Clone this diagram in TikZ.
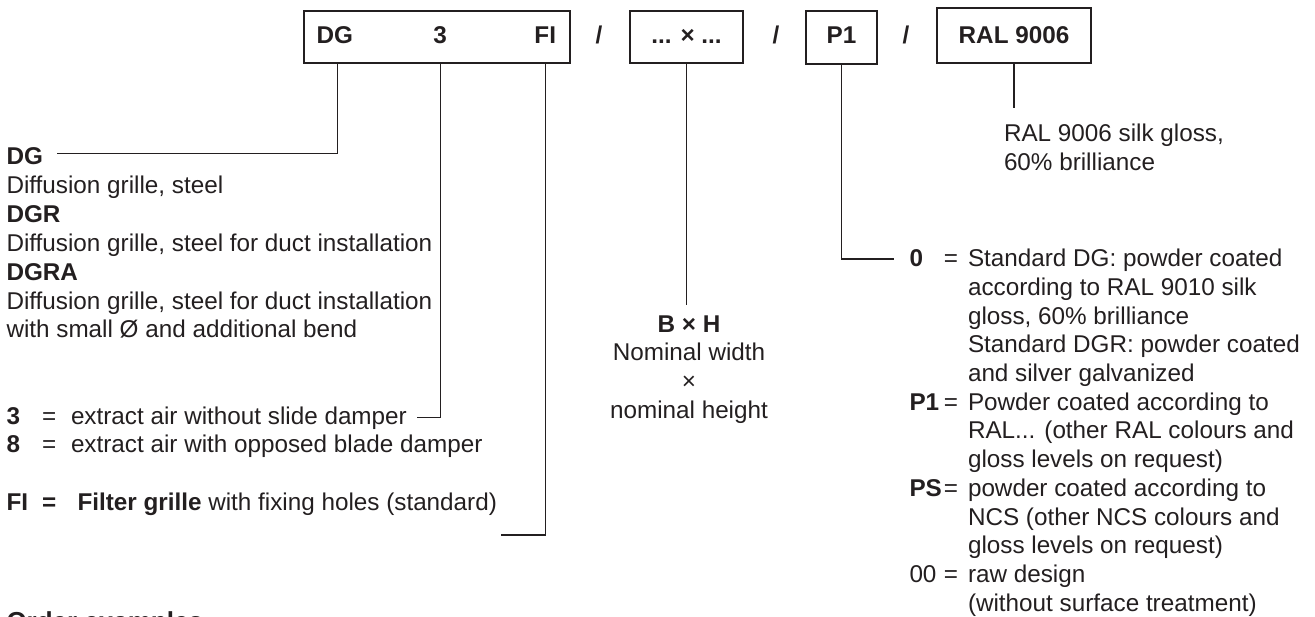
\documentclass[tikz,border=0pt]{standalone}
\usepackage{fontspec}
\setmainfont{Liberation Sans}
\definecolor{ink}{HTML}{231F20}
\begin{document}
\begin{tikzpicture}[x=0.75pt,y=-0.75pt,
  every node/.style={inner sep=0pt, outer sep=0pt, text=ink, font=\fontsize{18.2pt}{21.8pt}\selectfont},
  lbl/.style={anchor=base west},
  bl/.style={anchor=base west, font=\fontsize{18.2pt}{21.8pt}\selectfont\bfseries},
  frame/.style={draw=ink, line width=0.9pt, anchor=north west, minimum height=39pt},
  conn/.style={draw=ink, line width=0.9pt}]
\clip (0,0) rectangle (1315,617);
% code boxes
\node[frame, minimum width=199.5pt] (b1) at (304,11) {};
\node[frame, minimum width=84.75pt] (b2) at (630,11) {};
\node[frame, minimum width=53.25pt, minimum height=39.75pt] (b3) at (806,11) {};
\node[frame, minimum width=115.5pt, minimum height=41.25pt] (b4) at (937,8) {};
% box texts
\node[bl] (tdg) at (316.5,43.3) {DG};
\node[bl, anchor=base] (tthree) at (440,43.3) {3};
\node[bl, anchor=base east] (tfi) at (556,43.3) {FI};
\node[bl, anchor=base] (sl1) at (599,43.3) {/};
\node[bl, anchor=base] (tbh) at (686.5,43.3) {... × ...};
\node[bl, anchor=base] (sl2) at (776,43.3) {/};
\node[bl, anchor=base] (tp1) at (841.5,43.3) {P1};
\node[bl, anchor=base] (sl3) at (906,43.3) {/};
\node[bl, anchor=base] (tral) at (1014,43.3) {RAL 9006};
% connector coordinates
\coordinate (xdg) at (337.7,0);
\coordinate (edg) at (56.7,153.3);
\coordinate (xthree) at (440.5,0);
\coordinate (ethree) at (416.7,417.3);
\coordinate (xfi) at (545.7,0);
\coordinate (efi) at (501,535);
\coordinate (ebh) at (686.5,305);
\coordinate (ep1) at (894.3,259);
\coordinate (eral) at (1014,108.3);
% connectors
\draw[conn] (b1.south -| xdg) |- (edg);
\draw[conn] (b1.south -| xthree) |- (ethree);
\draw[conn] (b1.south -| xfi) |- (efi);
\draw[conn] (b2.south) -- (ebh);
\draw[conn] (b3.south) |- (ep1);
\draw[conn] (b4.south) -- (eral);
% left column
\node[bl] (ldg) at (6.5,165) {DG};
\node[lbl] (ldg1) at (6.5,194) {Diffusion grille, steel};
\node[bl] (ldgr) at (6.5,222.7) {DGR};
\node[lbl] (ldgr1) at (6.5,251.7) {Diffusion grille, steel for duct installation};
\node[bl] (ldgra) at (6.5,280.3) {DGRA};
\node[lbl] (ldgra1) at (6.5,309) {Diffusion grille, steel for duct installation};
\node[lbl] (ldgra2) at (6.5,337.6) {with small Ø and additional bend};
\node[bl] (l3) at (6.5,424) {3};
\node[lbl] (l3eq) at (42,424) {=};
\node[lbl] (l3t) at (71,424) {extract air without slide damper};
\node[bl] (l8) at (6.5,452) {8};
\node[lbl] (l8eq) at (42,452) {=};
\node[lbl] (l8t) at (71,452) {extract air with opposed blade damper};
\node[bl] (lfi) at (6.5,510.5) {FI};
\node[bl] (lfieq) at (42,510.5) {=};
\node[lbl] (lfit) at (77.5,510.5) {\textbf{Filter grille} with fixing holes (standard)};
\node[anchor=base west, font=\fontsize{19.5pt}{23pt}\selectfont\bfseries] (order) at (6.5,630) {Order examples};
% middle
\node[bl, anchor=base] (mbh) at (689,332) {B × H};
\node[anchor=base] (mbh1) at (689,360.7) {Nominal width};
\node[anchor=base] (mbh2) at (689,389.4) {×};
\node[anchor=base] (mbh3) at (689,418.1) {nominal height};
% RAL description
\node[lbl] (ral1) at (1004,141.7) {RAL 9006 silk gloss,};
\node[lbl] (ral2) at (1004,170.4) {60\% brilliance};
% right column
\node[bl] (r0) at (909.5,266.7) {0};
\node[lbl] (r0eq) at (943.8,266.7) {=};
\node[lbl] (r0a) at (968,266.7) {Standard DG: powder coated};
\node[lbl] (r0b) at (968,295.4) {according to RAL 9010 silk};
\node[lbl] (r0c) at (968,324.1) {gloss, 60\% brilliance};
\node[lbl] (r0d) at (968,352.8) {Standard DGR: powder coated};
\node[lbl] (r0e) at (968,381.5) {and silver galvanized};
\node[bl] (rp1) at (909.5,410.2) {P1};
\node[lbl] (rp1eq) at (943.8,410.2) {=};
\node[lbl] (rp1a) at (968,410.2) {Powder coated according to};
\node[lbl] (rp1b) at (968,438.9) {RAL... (other RAL colours and};
\node[lbl] (rp1c) at (968,467.6) {gloss levels on request)};
\node[bl] (rps) at (909.5,496.3) {PS};
\node[lbl] (rpseq) at (943.8,496.3) {=};
\node[lbl] (rpsa) at (968,496.3) {powder coated according to};
\node[lbl] (rpsb) at (968,525) {NCS (other NCS colours and};
\node[lbl] (rpsc) at (968,553.7) {gloss levels on request)};
\node[lbl] (r00) at (909.5,582.4) {00};
\node[lbl] (r00eq) at (943.8,582.4) {=};
\node[lbl] (r00a) at (968,582.4) {raw design};
\node[lbl] (r00b) at (968,611.1) {(without surface treatment)};
\end{tikzpicture}
\end{document}
